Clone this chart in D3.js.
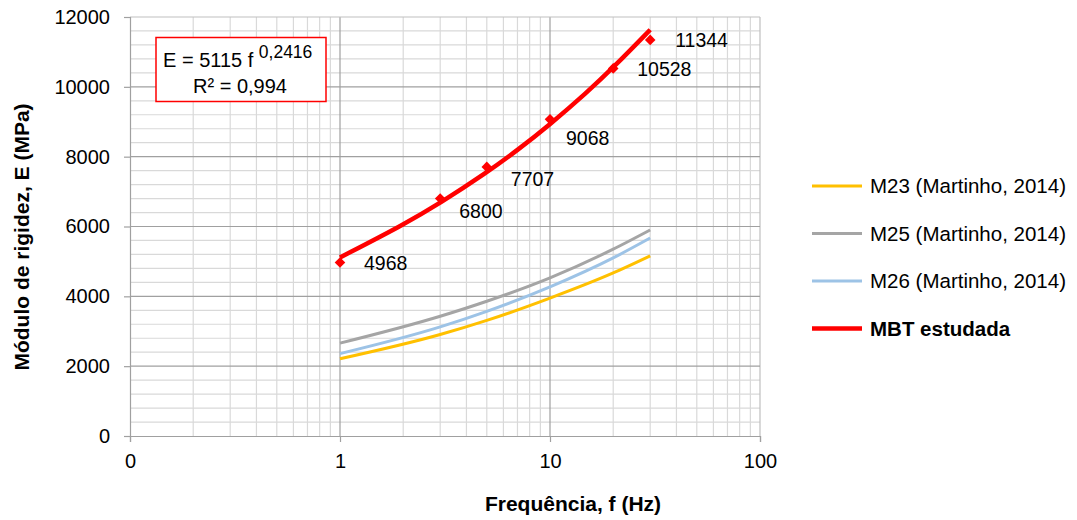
<!DOCTYPE html>
<meta charset="utf-8">
<div id="chart"></div>
<style>
body { margin: 0; background: #fff; font-family: 'Liberation Sans', Arial, sans-serif; }
</style>
<script src="https://d3js.org/d3.v7.min.js"></script>
<script>
// measured data (MBT)
var freqs = [1, 3, 5, 10, 20, 30];
var mbtValues = [4968, 6800, 7707, 9068, 10528, 11344];
// power trendline E = 5115 f^0.2416, read at a few frequencies
var trendFreqs = [1, 2, 3, 5, 7, 10, 15, 20, 30];
var trendValues = [5115, 6047, 6670, 7546, 8185, 8921, 9841, 10549, 11634];
// reference mixes (Martinho, 2014)
var m23 = [2210, 2905, 3310, 3950, 4670, 5160];
var m25 = [2660, 3430, 3860, 4530, 5350, 5900];
var m26 = [2360, 3125, 3570, 4270, 5100, 5670];
var xTickLabels = ['0', '1', '10', '100'];
var yTicks = [0, 2000, 4000, 6000, 8000, 10000, 12000];

var W = 1077, H = 520;
var margin = {left: 130, top: 17, right: 317, bottom: 84};
var pw = W - margin.left - margin.right, ph = H - margin.top - margin.bottom;

var svg = d3.select('#chart').append('svg')
  .attr('width', W).attr('height', H);

var x = d3.scaleLog().domain([0.1, 100]).range([margin.left, margin.left + pw]);
var y = d3.scaleLinear().domain([0, 12000]).range([margin.top + ph, margin.top]);

// minor grid
var minorX = [];
[0.1, 1, 10].forEach(function(d){ for (var k = 2; k <= 9; k++) minorX.push(d*k); });
var minorY = d3.range(0, 12001, 400).filter(function(v){ return v % 2000 != 0; });

var grid = svg.append('g');
grid.selectAll('.mx').data(minorX).enter().append('line')
  .attr('x1', x).attr('x2', x).attr('y1', y(0)).attr('y2', y(12000))
  .style('stroke', '#d9d9d9').style('stroke-width', 1.2);
grid.selectAll('.my').data(minorY).enter().append('line')
  .attr('x1', x(0.1)).attr('x2', x(100)).attr('y1', y).attr('y2', y)
  .style('stroke', '#d9d9d9').style('stroke-width', 1.2);
grid.selectAll('.Mx').data([1, 10, 100]).enter().append('line')
  .attr('x1', x).attr('x2', x).attr('y1', y(0)).attr('y2', y(12000))
  .style('stroke', function(d){ return d == 100 ? '#bfbfbf' : '#a0a0a0'; }).style('stroke-width', 1.2);
grid.selectAll('.My').data(yTicks.slice(1)).enter().append('line')
  .attr('x1', x(0.1)).attr('x2', x(100)).attr('y1', y).attr('y2', y)
  .style('stroke', function(d){ return d == 12000 ? '#bfbfbf' : '#a0a0a0'; }).style('stroke-width', 1.2);

// axes
var xAxis = d3.axisBottom(x).tickValues([0.1, 1, 10, 100])
  .tickFormat(function(d, i){ return xTickLabels[i]; }).tickSize(6).tickPadding(12);
var yAxis = d3.axisLeft(y).tickValues(yTicks).tickFormat(d3.format('d')).tickSize(6).tickPadding(14);

var gx = svg.append('g').attr('transform', 'translate(0,' + y(0) + ')').call(xAxis);
var gy = svg.append('g').attr('transform', 'translate(' + x(0.1) + ',0)').call(yAxis);
[gx, gy].forEach(function(g){
  g.select('.domain').style('stroke', '#a0a0a0').style('stroke-width', 1.2);
  g.selectAll('.tick line').style('stroke', '#a0a0a0').style('stroke-width', 1.2);
  g.selectAll('text').style('font-size', '20px').style('fill', '#000')
    .style('font-family', 'Liberation Sans, Arial, sans-serif');
});

// series lines
var line = d3.line()
  .x(function(d){ return x(d[0]); })
  .y(function(d){ return y(d[1]); })
  .curve(d3.curveMonotoneX);

var series = [
  {name: 'M23 (Martinho, 2014)', values: m23, color: '#ffc000'},
  {name: 'M25 (Martinho, 2014)', values: m25, color: '#a5a5a5'},
  {name: 'M26 (Martinho, 2014)', values: m26, color: '#9dc3e6'}
];
series.forEach(function(s){
  svg.append('path')
    .datum(d3.zip(freqs, s.values))
    .attr('d', line)
    .style('fill', 'none').style('stroke', s.color).style('stroke-width', 3);
});

// MBT points + trendline
svg.selectAll('.pt').data(d3.zip(freqs, mbtValues)).enter().append('path')
  .attr('d', d3.symbol().type(d3.symbolSquare).size(56))
  .attr('transform', function(d){ return 'translate(' + x(d[0]) + ',' + y(d[1]) + ') rotate(45)'; })
  .style('fill', '#ff0000');

svg.append('path')
  .datum(d3.zip(trendFreqs, trendValues))
  .attr('d', line.curve(d3.curveBasis))
  .style('fill', 'none').style('stroke', '#ff0000').style('stroke-width', 4.5);

// data labels
var labelOffsets = [[24, 7], [19, 19], [24, 19], [16, 26], [24, 8], [25, 7]];
svg.selectAll('.lbl').data(d3.zip(freqs, mbtValues)).enter().append('text')
  .attr('x', function(d, i){ return x(d[0]) + labelOffsets[i][0]; })
  .attr('y', function(d, i){ return y(d[1]) + labelOffsets[i][1]; })
  .text(function(d){ return d[1]; })
  .style('font-size', '19.5px').style('fill', '#000');

// equation box
var eq = svg.append('g');
eq.append('rect').attr('x', 156).attr('y', 37.5).attr('width', 170).attr('height', 64)
  .style('fill', '#fff').style('stroke', '#ff0000').style('stroke-width', 1.5);
var t1 = eq.append('text').attr('x', 163).attr('y', 67).style('font-size', '20px').style('fill', '#000');
t1.append('tspan').text('E = 5115 f ');
t1.append('tspan').attr('dy', -9).style('font-size', '17.5px').text('0,2416');
eq.append('text').attr('x', 240).attr('y', 93).attr('text-anchor', 'middle')
  .style('font-size', '20px').style('fill', '#000').text('R² = 0,994');

// axis titles
svg.append('text').attr('x', 573).attr('y', 511).attr('text-anchor', 'middle')
  .style('font-size', '21px').style('font-weight', 'bold').text('Frequência, f (Hz)');
svg.append('text').attr('transform', 'translate(29,237) rotate(-90)').attr('text-anchor', 'middle')
  .style('font-size', '21px').style('font-weight', 'bold').text('Módulo de rigidez, E (MPa)');

// legend
var legendItems = series.map(function(s){ return {name: s.name, color: s.color, w: 3, bold: false}; })
  .concat([{name: 'MBT estudada', color: '#ff0000', w: 4.5, bold: true}]);
var legend = svg.selectAll('.legend').data(legendItems).enter().append('g')
  .attr('transform', function(d, i){ return 'translate(812,' + (186 + i*47.5) + ')'; });
legend.append('line').attr('x1', 0).attr('x2', 50).attr('y1', 0).attr('y2', 0)
  .style('stroke', function(d){ return d.color; }).style('stroke-width', function(d){ return d.w; });
legend.append('text').attr('x', 58).attr('y', 7)
  .text(function(d){ return d.name; })
  .style('font-size', '20.5px').style('font-weight', function(d){ return d.bold ? 'bold' : 'normal'; });
</script>
